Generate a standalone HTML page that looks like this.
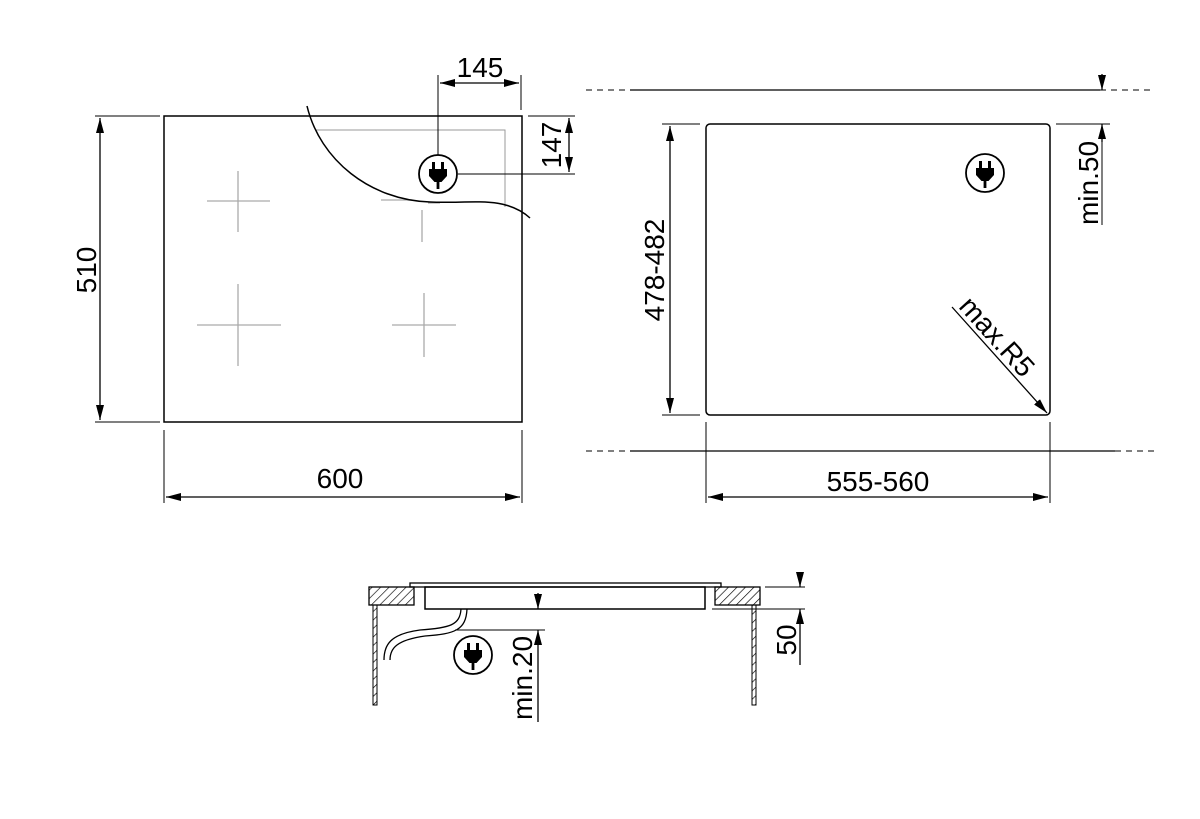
<!DOCTYPE html>
<html><head><meta charset="utf-8"><style>body{margin:0;background:#fff}svg{display:block}text{font-family:"Liberation Sans",Arial,sans-serif;font-size:28px;fill:#000}</style></head><body>
<svg width="1200" height="819" viewBox="0 0 1200 819" xmlns="http://www.w3.org/2000/svg">
<defs>
<marker id="a" viewBox="0 0 15 8" refX="15" refY="4" markerWidth="15" markerHeight="8" orient="auto-start-reverse" markerUnits="userSpaceOnUse"><path d="M0,0L15,4L0,8z" fill="#000"/></marker>
<g id="plug"><circle r="19" fill="#fff" stroke="#000" stroke-width="1.8"/><rect x="-6" y="-12" width="3" height="7" fill="#000"/><rect x="3" y="-12" width="3" height="7" fill="#000"/><path d="M-9,-5H9V2L3.5,8H-3.5L-9,2z" fill="#000"/><rect x="-1.4" y="7" width="2.8" height="8" fill="#000"/></g>
<pattern id="h" width="6" height="6" patternUnits="userSpaceOnUse" patternTransform="rotate(45)"><line x1="0" y1="0" x2="0" y2="6" stroke="#000" stroke-width="1.3"/></pattern>
</defs>
<g fill="none" stroke="#000" stroke-width="1">
<rect x="164" y="116" width="358" height="306" stroke-width="1.5"/>
<path d="M316,130H505V207" stroke="#999"/>
<g stroke="#aaa" stroke-width="1.3">
<path d="M207,201H270M238,171V232"/>
<path d="M381,200H412M428,203H440M422,210V242"/>
<path d="M197,325H281M238,284V366"/>
<path d="M392,325H456M424,293V357"/>
</g>
<path d="M307,106C320,160 370,200 430,202C470,204 505,195 530,218" stroke-width="1.5"/>
<path d="M438,75V160M521,75V110M458,174H575M528,116H575"/>
<path d="M440,83H519" marker-start="url(#a)" marker-end="url(#a)" stroke-width="1.3"/>
<path d="M569,118V172" marker-start="url(#a)" marker-end="url(#a)" stroke-width="1.3"/>
<path d="M95,116H160M95,422H160M164,430V503M522,430V503"/>
<path d="M100,118V420" marker-start="url(#a)" marker-end="url(#a)" stroke-width="1.3"/>
<path d="M166,497H520" marker-start="url(#a)" marker-end="url(#a)" stroke-width="1.3"/>
<rect x="706" y="124" width="344" height="291" rx="4" stroke-width="1.5"/>
<path d="M630,90H1100M630,451H1115" stroke-width="1.3"/>
<path d="M586,90H630M1100,90H1155M586,451H630M1115,451H1155" stroke-dasharray="6,5"/>
<path d="M1056,124H1110M1102,75V90M1102,124V225"/>
<path d="M1102,74V90" marker-end="url(#a)" stroke-width="1.3"/>
<path d="M1102,142V124" marker-end="url(#a)" stroke-width="1.3"/>
<path d="M662,124H700M662,415H700M706,422V503M1050,422V503"/>
<path d="M670,126V413" marker-start="url(#a)" marker-end="url(#a)" stroke-width="1.3"/>
<path d="M708,497H1048" marker-start="url(#a)" marker-end="url(#a)" stroke-width="1.3"/>
<path d="M952,307L1047,413" marker-end="url(#a)" stroke-width="1.3"/>
<rect x="410" y="583" width="311" height="4" stroke-width="1.3"/>
<rect x="425" y="587" width="280" height="22" stroke-width="1.5"/>
<rect x="369" y="587" width="45" height="18" fill="url(#h)" stroke-width="1.3"/>
<rect x="715" y="587" width="45" height="18" fill="url(#h)" stroke-width="1.3"/>
<rect x="373" y="605" width="4" height="100" fill="url(#h)"/>
<rect x="752" y="605" width="4" height="100" fill="url(#h)"/>
<path d="M461,609C460,625 450,628 420,630C390,634 384,645 384,660" stroke-width="1.3"/>
<path d="M467,609C466,630 455,634 425,636C397,640 390,648 390,660" stroke-width="1.3"/>
<path d="M455,630H545M765,587H805M712,609H805"/>
<path d="M538,593V609" marker-end="url(#a)" stroke-width="1.3"/>
<path d="M538,722V630" marker-end="url(#a)" stroke-width="1.3"/>
<path d="M800,573V587" marker-end="url(#a)" stroke-width="1.3"/>
<path d="M800,665V609" marker-end="url(#a)" stroke-width="1.3"/>
</g>
<use href="#plug" x="438" y="174"/>
<use href="#plug" x="985" y="173"/>
<use href="#plug" x="473" y="655"/>
<text x="480" y="77" text-anchor="middle">145</text>
<text transform="translate(561,145) rotate(-90)" text-anchor="middle">147</text>
<text transform="translate(96,270) rotate(-90)" text-anchor="middle">510</text>
<text x="340" y="488" text-anchor="middle">600</text>
<text transform="translate(664,270) rotate(-90)" text-anchor="middle">478-482</text>
<text x="878" y="491" text-anchor="middle">555-560</text>
<text transform="translate(1098,183) rotate(-90)" text-anchor="middle">min.50</text>
<text transform="translate(990,343) rotate(48)" text-anchor="middle">max.R5</text>
<text transform="translate(532,678) rotate(-90)" text-anchor="middle">min.20</text>
<text transform="translate(796,640) rotate(-90)" text-anchor="middle">50</text>
</svg>
</body></html>
